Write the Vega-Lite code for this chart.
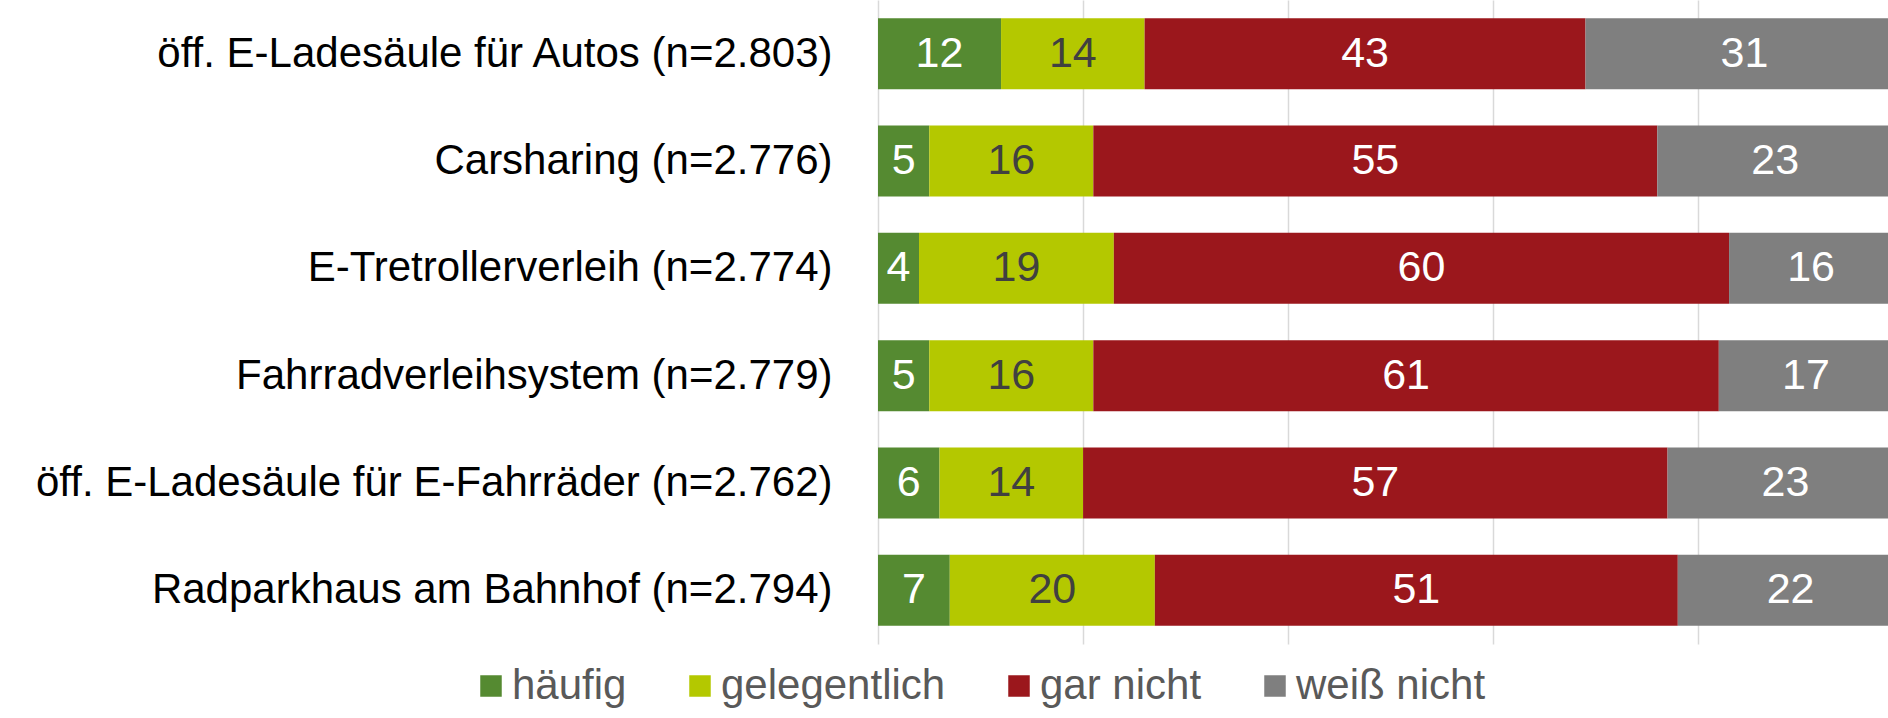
{
  "$schema": "https://vega.github.io/schema/vega-lite/v6.json",
  "width": 1010,
  "height": 644,
  "autosize": {"type": "none"},
  "padding": {"left": 878, "top": 0, "right": 0, "bottom": 74},
  "background": "white",
  "config": {"font": "Liberation Sans", "view": {"stroke": null}},
  "data": {"values": [
    {"item": "öff. E-Ladesäule für Autos (n=2.803)", "category": "häufig", "rank": 1, "value": 12},
    {"item": "öff. E-Ladesäule für Autos (n=2.803)", "category": "gelegentlich", "rank": 2, "value": 14},
    {"item": "öff. E-Ladesäule für Autos (n=2.803)", "category": "gar nicht", "rank": 3, "value": 43},
    {"item": "öff. E-Ladesäule für Autos (n=2.803)", "category": "weiß nicht", "rank": 4, "value": 31},
    {"item": "Carsharing (n=2.776)", "category": "häufig", "rank": 1, "value": 5},
    {"item": "Carsharing (n=2.776)", "category": "gelegentlich", "rank": 2, "value": 16},
    {"item": "Carsharing (n=2.776)", "category": "gar nicht", "rank": 3, "value": 55},
    {"item": "Carsharing (n=2.776)", "category": "weiß nicht", "rank": 4, "value": 23},
    {"item": "E-Tretrollerverleih (n=2.774)", "category": "häufig", "rank": 1, "value": 4},
    {"item": "E-Tretrollerverleih (n=2.774)", "category": "gelegentlich", "rank": 2, "value": 19},
    {"item": "E-Tretrollerverleih (n=2.774)", "category": "gar nicht", "rank": 3, "value": 60},
    {"item": "E-Tretrollerverleih (n=2.774)", "category": "weiß nicht", "rank": 4, "value": 16},
    {"item": "Fahrradverleihsystem (n=2.779)", "category": "häufig", "rank": 1, "value": 5},
    {"item": "Fahrradverleihsystem (n=2.779)", "category": "gelegentlich", "rank": 2, "value": 16},
    {"item": "Fahrradverleihsystem (n=2.779)", "category": "gar nicht", "rank": 3, "value": 61},
    {"item": "Fahrradverleihsystem (n=2.779)", "category": "weiß nicht", "rank": 4, "value": 17},
    {"item": "öff. E-Ladesäule für E-Fahrräder (n=2.762)", "category": "häufig", "rank": 1, "value": 6},
    {"item": "öff. E-Ladesäule für E-Fahrräder (n=2.762)", "category": "gelegentlich", "rank": 2, "value": 14},
    {"item": "öff. E-Ladesäule für E-Fahrräder (n=2.762)", "category": "gar nicht", "rank": 3, "value": 57},
    {"item": "öff. E-Ladesäule für E-Fahrräder (n=2.762)", "category": "weiß nicht", "rank": 4, "value": 23},
    {"item": "Radparkhaus am Bahnhof (n=2.794)", "category": "häufig", "rank": 1, "value": 7},
    {"item": "Radparkhaus am Bahnhof (n=2.794)", "category": "gelegentlich", "rank": 2, "value": 20},
    {"item": "Radparkhaus am Bahnhof (n=2.794)", "category": "gar nicht", "rank": 3, "value": 51},
    {"item": "Radparkhaus am Bahnhof (n=2.794)", "category": "weiß nicht", "rank": 4, "value": 22}
  ]},
  "transform": [
    {"stack": "value", "groupby": ["item"], "sort": [{"field": "rank", "order": "ascending"}], "as": ["x0", "x1"]},
    {"calculate": "(datum.x0 + datum.x1) / 2", "as": "xm"}
  ],
  "encoding": {
    "y": {
      "field": "item",
      "type": "nominal",
      "sort": [
        "öff. E-Ladesäule für Autos (n=2.803)",
        "Carsharing (n=2.776)",
        "E-Tretrollerverleih (n=2.774)",
        "Fahrradverleihsystem (n=2.779)",
        "öff. E-Ladesäule für E-Fahrräder (n=2.762)",
        "Radparkhaus am Bahnhof (n=2.794)"
      ],
      "scale": {"paddingInner": 0.338, "paddingOuter": 0.169},
      "axis": {
        "title": null,
        "domain": false,
        "ticks": false,
        "labelFontSize": 42,
        "labelColor": "#000000",
        "labelPadding": 46,
        "labelLimit": 1000
      }
    }
  },
  "layer": [
    {
      "mark": {"type": "bar", "clip": true},
      "encoding": {
        "x": {
          "field": "x0",
          "type": "quantitative",
          "scale": {"domain": [0, 98.5], "nice": false, "zero": true},
          "axis": {
            "title": null,
            "labels": false,
            "ticks": false,
            "domain": false,
            "values": [0, 20, 40, 60, 80],
            "grid": true,
            "gridColor": "#d9d9d9",
            "gridWidth": 1.5
          }
        },
        "x2": {"field": "x1"},
        "color": {
          "field": "category",
          "type": "nominal",
          "scale": {
            "domain": ["häufig", "gelegentlich", "gar nicht", "weiß nicht"],
            "range": ["#558a31", "#b4c800", "#9b171c", "#7f7f7f"]
          },
          "legend": {
            "orient": "none",
            "legendX": -408,
            "legendY": 665,
            "direction": "horizontal",
            "title": null,
            "symbolType": "square",
            "symbolSize": 462,
            "symbolStrokeWidth": 0,
            "symbolOpacity": 1,
            "labelFontSize": 42,
            "labelColor": "#595959",
            "labelOffset": 0,
            "columnPadding": 52,
            "labelLimit": 1000
          }
        }
      }
    },
    {
      "mark": {"type": "text", "fontSize": 43, "align": "center", "baseline": "middle"},
      "encoding": {
        "x": {"field": "xm", "type": "quantitative"},
        "text": {"field": "value", "type": "quantitative"},
        "color": {
          "condition": {"test": "datum.category === 'gelegentlich'", "value": "#404040"},
          "value": "#ffffff"
        }
      }
    }
  ]
}
